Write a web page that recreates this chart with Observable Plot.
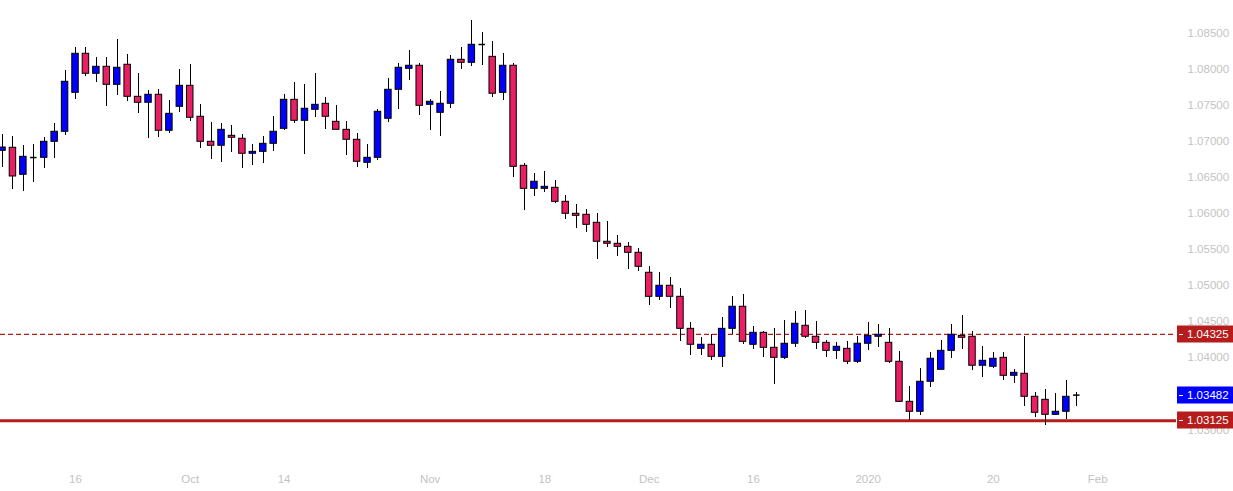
<!DOCTYPE html>
<html><head><meta charset="utf-8">
<script src="https://cdn.jsdelivr.net/npm/d3@7"></script>
<script src="https://cdn.jsdelivr.net/npm/@observablehq/plot@0.6"></script>
<style>
html,body{margin:0;padding:0;background:#fff;}
#chart{width:1233px;height:491px;overflow:hidden;}
</style></head><body><div id="chart"></div>
<script>
const dates = [
"2019-09-05","2019-09-06","2019-09-09","2019-09-10","2019-09-11","2019-09-12","2019-09-13","2019-09-16","2019-09-17","2019-09-18","2019-09-19","2019-09-20","2019-09-23","2019-09-24","2019-09-25","2019-09-26","2019-09-27","2019-09-30",
"2019-10-01","2019-10-02","2019-10-03","2019-10-04","2019-10-07","2019-10-08","2019-10-09","2019-10-10","2019-10-11","2019-10-14","2019-10-15","2019-10-16","2019-10-17","2019-10-18","2019-10-21","2019-10-22","2019-10-23","2019-10-24","2019-10-25","2019-10-28","2019-10-29","2019-10-30","2019-10-31",
"2019-11-01","2019-11-04","2019-11-05","2019-11-06","2019-11-07","2019-11-08","2019-11-11","2019-11-12","2019-11-13","2019-11-14","2019-11-15","2019-11-18","2019-11-19","2019-11-20","2019-11-21","2019-11-22","2019-11-25","2019-11-26","2019-11-27","2019-11-28","2019-11-29",
"2019-12-02","2019-12-03","2019-12-04","2019-12-05","2019-12-06","2019-12-09","2019-12-10","2019-12-11","2019-12-12","2019-12-13","2019-12-16","2019-12-17","2019-12-18","2019-12-19","2019-12-20","2019-12-23","2019-12-24","2019-12-26","2019-12-27","2019-12-30","2019-12-31",
"2020-01-02","2020-01-03","2020-01-06","2020-01-07","2020-01-08","2020-01-09","2020-01-10","2020-01-13","2020-01-14","2020-01-15","2020-01-16","2020-01-17","2020-01-20","2020-01-21","2020-01-22","2020-01-23","2020-01-24","2020-01-27","2020-01-28","2020-01-29","2020-01-30"
];

const open = [
1.06869,1.06911,1.06537,1.06776,1.06772,1.06994,1.07133,1.07673,1.08214,1.07937,
1.08034,1.07784,1.08062,1.07618,1.07535,1.07646,1.07147,1.07479,1.07770,1.07341,
1.06994,1.06939,1.07077,1.07036,1.06828,1.06855,1.06966,1.07174,1.07576,1.07285,
1.07438,1.07521,1.07271,1.07160,1.07022,1.06703,1.06772,1.07313,1.07715,1.08006,
1.08048,1.07507,1.07396,1.07521,1.08131,1.08089,1.08343,1.08172,1.07673,1.08048,
1.06661,1.06342,1.06342,1.06356,1.06162,1.05996,1.05982,1.05871,1.05608,1.05580,
1.05538,1.05455,1.05178,1.04845,1.04998,1.04845,1.04401,1.04124,1.04180,1.04013,
1.04401,1.04707,1.04180,1.04346,1.04138,1.03999,1.04194,1.04443,1.04291,1.04207,
1.04096,1.04124,1.03944,1.04194,1.04291,1.04207,1.03944,1.03389,1.03251,1.03667,
1.03833,1.04096,1.04304,1.04291,1.03889,1.03875,1.03999,1.03750,1.03778,1.03459,
1.03417,1.03209,1.03251,1.03482
];
const high = [
1.07095,1.07068,1.06939,1.06957,1.07054,1.07244,1.07978,1.08301,1.08301,1.08163,
1.08163,1.08412,1.08204,1.07941,1.07705,1.07715,1.07567,1.07996,1.08066,1.07511,
1.07257,1.07244,1.07216,1.07091,1.06952,1.07063,1.07341,1.07646,1.07816,1.07788,
1.07941,1.07604,1.07493,1.07271,1.07105,1.06952,1.07438,1.07867,1.08075,1.08256,
1.08075,1.07576,1.07687,1.08186,1.08297,1.08672,1.08505,1.08380,1.08214,1.08075,
1.06689,1.06550,1.06578,1.06453,1.06245,1.06121,1.06051,1.05996,1.05885,1.05691,
1.05594,1.05511,1.05261,1.05178,1.05109,1.04956,1.04489,1.04277,1.04318,1.04554,
1.04849,1.04873,1.04429,1.04360,1.04401,1.04512,1.04637,1.04651,1.04499,1.04235,
1.04207,1.04221,1.04291,1.04485,1.04457,1.04401,1.04083,1.03597,1.03847,1.04069,
1.04235,1.04457,1.04582,1.04360,1.04152,1.04069,1.04069,1.03833,1.04291,1.03514,
1.03556,1.03500,1.03681,1.03514
];
const low = [
1.06642,1.06329,1.06309,1.06434,1.06628,1.06767,1.07086,1.07581,1.07904,1.07816,
1.07488,1.07640,1.07557,1.07391,1.07036,1.07058,1.07113,1.07404,1.07280,1.06905,
1.06753,1.06711,1.06850,1.06628,1.06670,1.06697,1.06864,1.07147,1.07252,1.06822,
1.07335,1.07160,1.07160,1.06808,1.06642,1.06628,1.06739,1.07257,1.07446,1.07848,
1.07363,1.07155,1.07072,1.07460,1.07992,1.08042,1.08048,1.07604,1.07562,1.06503,
1.06042,1.06240,1.06295,1.06135,1.05913,1.05788,1.05732,1.05358,1.05524,1.05400,
1.05219,1.05192,1.04720,1.04790,1.04679,1.04230,1.04035,1.04035,1.03966,1.03869,
1.04318,1.04180,1.04110,1.04008,1.03633,1.03980,1.04138,1.04263,1.04119,1.04008,
1.03980,1.03902,1.03916,1.04105,1.04138,1.03916,1.03376,1.03130,1.03195,1.03584,
1.03833,1.03986,1.04110,1.03819,1.03722,1.03847,1.03681,1.03639,1.03320,1.03168,
1.03057,1.03195,1.03140,1.03320
];
const close = [
1.06915,1.06513,1.06786,1.06776,1.06994,1.07133,1.07826,1.08214,1.07937,1.08034,
1.07784,1.08020,1.07618,1.07535,1.07646,1.07147,1.07382,1.07770,1.07327,1.06994,
1.06939,1.07160,1.07050,1.06828,1.06855,1.06966,1.07133,1.07576,1.07285,1.07452,
1.07507,1.07341,1.07160,1.07022,1.06717,1.06772,1.07410,1.07715,1.08020,1.08048,
1.07493,1.07549,1.07521,1.08131,1.08089,1.08339,1.08343,1.07660,1.08048,1.06647,
1.06342,1.06440,1.06370,1.06162,1.05996,1.05968,1.05843,1.05608,1.05580,1.05538,
1.05455,1.05261,1.04845,1.04998,1.04845,1.04401,1.04180,1.04180,1.04013,1.04401,
1.04707,1.04221,1.04346,1.04138,1.03999,1.04194,1.04471,1.04291,1.04207,1.04096,
1.04152,1.03944,1.04194,1.04304,1.04318,1.03944,1.03389,1.03251,1.03667,1.03986,
1.04096,1.04318,1.04277,1.03889,1.03958,1.03986,1.03750,1.03791,1.03459,1.03237,
1.03209,1.03251,1.03459,1.03482
];

// x-axis ticks: bar index and label (Feb 3 falls two bars after the last candle)
const xTickIndex = [7, 18, 27, 41, 52, 62, 72, 83, 95, 105];
const xTickLabels = ["16","Oct","14","Nov","18","Dec","16","2020","20","Feb"];
const yTickValues = [1.030,1.035,1.040,1.045,1.050,1.055,1.060,1.065,1.070,1.075,1.080,1.085];

// horizontal levels
const resistanceLevel = 1.04325;
const supportLevel = 1.03125;
const lastPrice = 1.03482;

const UP = "#0000ff", DOWN = "#e91e63", LEVEL = "#b71c1c", AXIS_TEXT = "#c3c3c3";
const FONT = "'Liberation Sans', Arial, sans-serif";

const candles = dates.map((d, i) => ({i, date: d, open: open[i], high: high[i], low: low[i], close: close[i]}));
const halfW = 0.31;

const chart = Plot.plot({
  width: 1233,
  height: 491,
  marginLeft: 0,
  marginRight: 57,
  marginTop: 0,
  marginBottom: 28,
  style: {background: "#fff", fontFamily: FONT, fontSize: "11.5px", overflow: "visible"},
  color: {type: "identity"},
  x: {type: "linear", domain: [-0.192, 112.56], axis: null},
  y: {domain: [1.02534, 1.08953], axis: null},
  marks: [
    Plot.axisY({anchor: "right", ticks: yTickValues, tickFormat: d => d.toFixed(5), tickSize: 0, tickPadding: 11, fill: AXIS_TEXT, label: null}),
    Plot.axisX({anchor: "bottom", ticks: xTickIndex, tickFormat: d => xTickLabels[xTickIndex.indexOf(d)], tickSize: 0, tickPadding: 11, fill: AXIS_TEXT, label: null}),
    Plot.ruleY([resistanceLevel], {stroke: LEVEL, strokeWidth: 1.2, strokeDasharray: "5,3"}),
    Plot.ruleY([supportLevel], {stroke: LEVEL, strokeWidth: 3}),
    Plot.ruleX(candles, {x: "i", y1: "low", y2: "high", stroke: "#000", strokeWidth: 1, shapeRendering: "crispEdges"}),
    Plot.rect(candles.filter(d => Math.abs(d.open - d.close) > 0.00003), {
      x1: d => d.i - halfW, x2: d => d.i + halfW,
      y1: "open", y2: "close",
      fill: d => d.close >= d.open ? UP : DOWN,
      stroke: "#000", strokeWidth: 1
    }),
    Plot.ruleY(candles.filter(d => Math.abs(d.open - d.close) <= 0.00003), {
      y: "close", x1: d => d.i - halfW, x2: d => d.i + halfW, stroke: "#000", strokeWidth: 1.5
    })
  ]
});
document.getElementById("chart").appendChild(chart);

// price labels on the right axis, positioned through the chart's own y scale
const yScale = chart.scale("y");
const svg = d3.select(chart);
const priceLabels = [
  {value: resistanceLevel, color: LEVEL},
  {value: lastPrice, color: UP},
  {value: supportLevel, color: LEVEL}
];
const g = svg.append("g").attr("text-anchor", "start");
priceLabels.forEach(p => {
  const y = Math.round(yScale.apply(p.value));
  g.append("rect").attr("x", 1177).attr("y", y - 8.5).attr("width", 56).attr("height", 17).attr("fill", p.color);
  g.append("line").attr("x1", 1179).attr("x2", 1183).attr("y1", y + 0.5).attr("y2", y + 0.5).attr("stroke", "#fff");
  g.append("text").attr("x", 1187).attr("y", y).attr("dy", "0.35em")
    .attr("text-anchor", "start")
    .attr("fill", "#fff").attr("font-family", FONT).attr("font-size", "11.5px")
    .text(p.value.toFixed(5));
});
</script>
</body></html>
